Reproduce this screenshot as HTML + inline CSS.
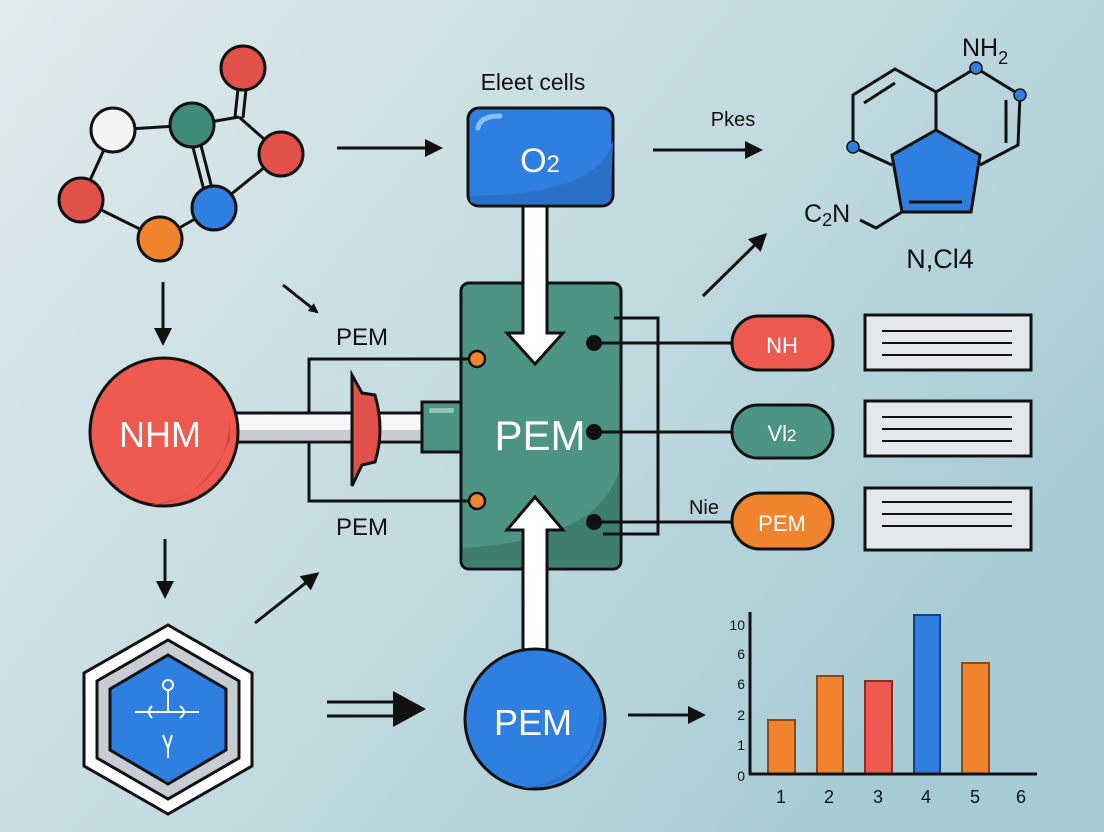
<!DOCTYPE html>
<html><head><meta charset="utf-8"><style>
html,body{margin:0;padding:0;width:1104px;height:832px;overflow:hidden}
svg{display:block}
text{font-family:"Liberation Sans",sans-serif}
</style></head><body>
<svg width="1104" height="832" viewBox="0 0 1104 832" xmlns="http://www.w3.org/2000/svg">
<defs>
<linearGradient id="bg" x1="0" y1="0" x2="1" y2="0.6">
<stop offset="0" stop-color="#dfeaec"/><stop offset="0.55" stop-color="#c3dbe0"/><stop offset="1" stop-color="#a6cbd4"/></linearGradient>
<marker id="ah" markerWidth="10" markerHeight="10" refX="8" refY="5" orient="auto" markerUnits="userSpaceOnUse"><path d="M0,0 L10,5 L0,10 Z" fill="#111"/></marker>
<marker id="ahb" markerWidth="18" markerHeight="18" refX="15" refY="9" orient="auto" markerUnits="userSpaceOnUse"><path d="M0,0 L18,9 L0,18 Z" fill="#111"/></marker>
</defs>
<rect width="1104" height="832" fill="url(#bg)"/>

<!-- molecule -->
<g stroke="#111" stroke-width="3" fill="none">
<line x1="113" y1="130" x2="192" y2="125"/>
<line x1="192" y1="125" x2="239" y2="117"/>
<line x1="235" y1="117" x2="240" y2="70"/><line x1="243" y1="118" x2="248" y2="70"/>
<line x1="239" y1="117" x2="281" y2="154"/>
<line x1="188" y1="128" x2="208" y2="206"/><line x1="196" y1="126" x2="216" y2="204"/>
<line x1="281" y1="154" x2="214" y2="208"/>
<line x1="214" y1="208" x2="160" y2="239"/>
<line x1="160" y1="239" x2="81" y2="200"/>
<line x1="81" y1="200" x2="113" y2="130"/>
</g>
<g stroke="#111" stroke-width="3">
<circle cx="243" cy="68" r="22" fill="#e2504a"/>
<circle cx="113" cy="130" r="22" fill="#f4f4f4"/>
<circle cx="192" cy="125" r="22" fill="#3f8a78"/>
<circle cx="281" cy="154" r="22" fill="#e2504a"/>
<circle cx="81" cy="200" r="22" fill="#e2504a"/>
<circle cx="214" cy="208" r="22" fill="#2f7fe0"/>
<circle cx="160" cy="239" r="22" fill="#f0842c"/>
</g>

<!-- arrows -->
<g stroke="#111" stroke-width="3">
<line x1="337" y1="148" x2="440" y2="148" marker-end="url(#ahb)"/>
<line x1="653" y1="150" x2="760" y2="150" marker-end="url(#ahb)"/>
<line x1="163" y1="282" x2="163" y2="343" marker-end="url(#ahb)"/>
<line x1="165" y1="539" x2="165" y2="596" marker-end="url(#ahb)"/>
<line x1="283" y1="285" x2="317" y2="312" marker-end="url(#ah)"/>
<line x1="255" y1="623" x2="317" y2="574" marker-end="url(#ahb)"/>
<line x1="703" y1="296" x2="765" y2="235" marker-end="url(#ahb)"/>
<line x1="628" y1="715" x2="703" y2="715" marker-end="url(#ahb)"/>
<line x1="327" y1="702" x2="400" y2="702"/>
<line x1="327" y1="716" x2="400" y2="716"/>
</g>
<path d="M393,691 L426,709 L393,727 Z" fill="#111"/>

<text x="533" y="90" font-size="23" text-anchor="middle" fill="#111">Eleet cells</text>
<text x="733" y="126" font-size="20" text-anchor="middle" fill="#111">Pkes</text>

<!-- O2 box -->
<rect x="468" y="108" width="145" height="98" rx="11" fill="#2f7fe0" stroke="#111" stroke-width="3"/>
<path d="M613,140 Q600,195 470,196 L470,200 Q470,204 480,204 L603,204 Q611,204 611,196 Z" fill="#2a6fc8"/>
<path d="M478,128 Q480,116 500,116" stroke="#8cc0f5" stroke-width="5" fill="none" stroke-linecap="round"/>
<text x="540" y="172" font-size="34" text-anchor="middle" fill="#fff">O<tspan font-size="24">2</tspan></text>

<!-- green box -->
<rect x="461" y="283" width="160" height="286" rx="8" fill="#4e9484" stroke="#111" stroke-width="3"/>
<path d="M619,470 Q600,540 463,548 L463,560 Q463,567 470,567 L612,567 Q619,567 619,560 Z" fill="#3f7e6f"/>
<!-- white arrows -->
<path d="M523,206 L547,206 L547,333 L563,333 L535,364 L507,333 L523,333 Z" fill="#fff" stroke="#111" stroke-width="3"/>
<path d="M523,650 L547,650 L547,530 L563,530 L535,497 L507,530 L523,530 Z" fill="#fff" stroke="#111" stroke-width="3"/>
<text x="540" y="450" font-size="42" text-anchor="middle" fill="#fff">PEM</text>

<!-- left connection lines -->
<g stroke="#111" stroke-width="3" fill="none">
<polyline points="470,359 309,359 309,501 470,501"/>
</g>
<!-- pipe -->
<rect x="230" y="413" width="195" height="29" fill="#f7f7f7" stroke="#111" stroke-width="3"/>
<rect x="232" y="430" width="191" height="10" fill="#c7ccd3"/>
<rect x="422" y="402" width="39" height="50" fill="#4e9484" stroke="#111" stroke-width="3"/>
<rect x="429" y="408" width="25" height="5" rx="2" fill="#8fc4b6"/>
<path d="M352,375 L362,393 L375,395 Q385,430 375,462 L362,465 L352,486 Z" fill="#e2504a" stroke="#111" stroke-width="3"/>
<circle cx="477" cy="359" r="8" fill="#f0842c" stroke="#111" stroke-width="2.5"/>
<circle cx="477" cy="501" r="8" fill="#f0842c" stroke="#111" stroke-width="2.5"/>
<text x="362" y="345" font-size="24" text-anchor="middle" fill="#111">PEM</text>
<text x="362" y="535" font-size="24" text-anchor="middle" fill="#111">PEM</text>

<!-- red circle -->
<circle cx="164" cy="432" r="74" fill="#ef5a50" stroke="#111" stroke-width="3"/>
<path d="M230,420 Q225,495 150,505 Q200,505 230,440 Z" fill="#d2463e"/>
<text x="160" y="447" font-size="36" text-anchor="middle" fill="#fff">NHM</text>

<!-- right connectors -->
<g stroke="#111" stroke-width="3" fill="none">
<polyline points="614,318 658,318 658,534 603,534"/>
<line x1="594" y1="343" x2="732" y2="343"/>
<line x1="594" y1="432" x2="732" y2="432"/>
<line x1="594" y1="522" x2="732" y2="522"/>
</g>
<circle cx="594" cy="343" r="8" fill="#111"/>
<circle cx="594" cy="432" r="8" fill="#111"/>
<circle cx="594" cy="522" r="8" fill="#111"/>

<!-- pills -->
<rect x="732" y="316" width="101" height="54" rx="27" fill="#ef5a50" stroke="#111" stroke-width="3"/>
<text x="782" y="353" font-size="22" text-anchor="middle" fill="#fff">NH</text>
<rect x="732" y="405" width="101" height="53" rx="26" fill="#4e9484" stroke="#111" stroke-width="3"/>
<text x="782" y="441" font-size="22" text-anchor="middle" fill="#fff">Vl<tspan font-size="17">2</tspan></text>
<rect x="732" y="493" width="101" height="56" rx="28" fill="#f0842c" stroke="#111" stroke-width="3"/>
<text x="782" y="531" font-size="22" text-anchor="middle" fill="#fff">PEM</text>
<text x="704" y="514" font-size="20" text-anchor="middle" fill="#111">Nie</text>

<!-- text boxes -->
<g stroke="#111">
<rect x="865" y="315" width="166" height="55" fill="#e5e8eb" stroke-width="3"/>
<rect x="865" y="401" width="166" height="55" fill="#e5e8eb" stroke-width="3"/>
<rect x="865" y="488" width="166" height="62" fill="#e5e8eb" stroke-width="3"/>
<g stroke-width="2">
<line x1="882" y1="331" x2="1012" y2="331"/><line x1="882" y1="343" x2="1012" y2="343"/><line x1="882" y1="355" x2="1012" y2="355"/>
<line x1="882" y1="417" x2="1012" y2="417"/><line x1="882" y1="429" x2="1012" y2="429"/><line x1="882" y1="441" x2="1012" y2="441"/>
<line x1="882" y1="502" x2="1012" y2="502"/><line x1="882" y1="514" x2="1012" y2="514"/><line x1="882" y1="526" x2="1012" y2="526"/>
</g></g>

<!-- chemical structure -->
<path d="M936,130 L980,155 L971,212 L902,212 L892,155 Z" fill="#2f7fe0" stroke="#111" stroke-width="3"/>
<g stroke="#111" stroke-width="3" fill="none">
<polyline points="892,165 853,147 853,95 895,69 936,92 936,130"/>
<polyline points="936,92 976,68 1020,95 1018,145 980,165"/>
<line x1="864" y1="103" x2="895" y2="83"/>
<line x1="1006" y1="100" x2="1006" y2="143"/>
<line x1="909" y1="202" x2="962" y2="202"/>
<polyline points="860,220 876,228 902,212"/>
</g>
<g fill="#2f7fe0" stroke="#111" stroke-width="1.5">
<circle cx="853" cy="147" r="6"/><circle cx="976" cy="68" r="6"/><circle cx="1020" cy="95" r="6"/>
</g>
<text x="962" y="56" font-size="25" fill="#111">NH<tspan font-size="18" dy="8">2</tspan></text>
<text x="804" y="222" font-size="25" fill="#111">C<tspan font-size="18" dy="4">2</tspan><tspan dy="-4">N</tspan></text>
<text x="940" y="268" font-size="27" text-anchor="middle" fill="#111">N,Cl4</text>

<!-- hexagon -->
<path d="M168,625 L252,673 L252,766 L168,814 L84,766 L84,673 Z" fill="#fff" stroke="#111" stroke-width="3"/>
<path d="M168,640 L239,681 L239,758 L168,799 L97,758 L97,681 Z" fill="#c8ccd3" stroke="#111" stroke-width="3"/>
<path d="M168,655 L226,689 L226,750 L168,784 L110,750 L110,689 Z" fill="#2f7fe0" stroke="#111" stroke-width="3"/>
<g stroke="#fff" stroke-width="2" fill="none">
<circle cx="168" cy="685" r="5"/>
<line x1="168" y1="690" x2="168" y2="712"/>
<line x1="135" y1="712" x2="199" y2="712"/>
<path d="M152,706 Q146,712 152,718"/><path d="M180,706 Q188,712 180,718"/>
<path d="M163,735 L168,748 L172,735"/><line x1="168" y1="748" x2="168" y2="758"/>
</g>

<!-- blue circle -->
<circle cx="535" cy="719" r="70" fill="#2f7fe0" stroke="#111" stroke-width="3"/>
<path d="M600,700 Q600,780 520,788 Q580,790 603,725 Z" fill="#2a6fc8"/>
<text x="533" y="735" font-size="36" text-anchor="middle" fill="#fff">PEM</text>

<!-- chart -->
<g stroke="#111" stroke-width="2">
<rect x="768" y="720" width="27" height="54" fill="#f0842c" stroke="#8a4a1a"/>
<rect x="817" y="676" width="26" height="98" fill="#f0842c" stroke="#8a4a1a"/>
<rect x="865" y="681" width="27" height="93" fill="#ef5a50" stroke="#8a2a22"/>
<rect x="914" y="615" width="26" height="159" fill="#2f7fe0" stroke="#1a3f80"/>
<rect x="962" y="663" width="27" height="111" fill="#f0842c" stroke="#8a4a1a"/>
</g>
<g stroke="#111" stroke-width="3">
<line x1="750" y1="612" x2="750" y2="775"/>
<line x1="749" y1="774" x2="1037" y2="774"/>
</g>
<g font-size="14" fill="#111" text-anchor="end">
<text x="745" y="630">10</text><text x="745" y="659">6</text><text x="745" y="689">6</text>
<text x="745" y="720">2</text><text x="745" y="750">1</text><text x="745" y="781">0</text>
</g>
<g font-size="18" fill="#111" text-anchor="middle">
<text x="781" y="803">1</text><text x="829" y="803">2</text><text x="878" y="803">3</text>
<text x="926" y="803">4</text><text x="975" y="803">5</text><text x="1021" y="803">6</text>
</g>
</svg>
</body></html>
